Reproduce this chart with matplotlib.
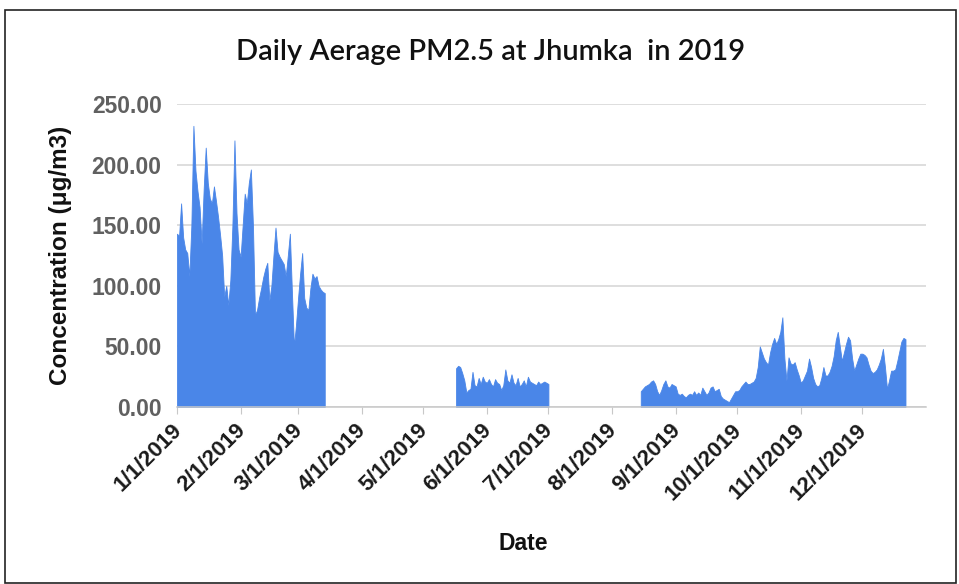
import numpy as np
import pandas as pd
import matplotlib
matplotlib.use("Agg")
import matplotlib.pyplot as plt
import matplotlib.transforms as mtransforms
from matplotlib.patches import Rectangle

# ---- data (daily average PM2.5, µg/m3), three measured periods ----
seg1_start = "2019-01-01"
seg1_values = [143, 141, 168, 140, 130, 127, 108, 150, 232, 195, 178, 165, 135, 180, 214,
               185, 172, 168, 182, 170, 157, 142, 125, 91, 100, 84, 105, 150, 220, 160,
               130, 124, 150, 176, 168, 185, 196, 150, 76, 80, 90, 98, 107, 114, 119,
               88, 100, 125, 148, 128, 124, 121, 118, 108, 125, 143, 95, 50, 68, 90,
               110, 127, 90, 82, 80, 98, 110, 106, 108, 100, 97, 95, 94]

seg2_start = "2019-05-17"
seg2_values = [32, 34, 33, 28, 22, 12, 14, 15, 29, 18, 17, 24, 19, 25, 21, 20, 23, 19, 17,
               23, 20, 19, 14, 18, 31, 22, 20, 27, 20, 18, 24, 17, 19, 22, 17, 25, 21, 20,
               19, 18, 21, 19, 20, 21, 20, 19]

seg3_start = "2019-08-15"
seg3_values = [13, 15, 17, 18, 19, 21, 22, 19, 13, 10, 14, 19, 22, 17, 16, 19, 18, 17, 11,
               10, 11, 9, 8, 10, 11, 10, 13, 10, 12, 10, 16, 13, 10, 12, 16, 17, 13, 14,
               15, 9, 7, 6, 5, 4, 7, 10, 13, 13, 14, 17, 19, 21, 19, 19, 20, 21, 24, 33,
               50, 45, 40, 37, 35, 45, 52, 57, 52, 56, 62, 74, 40, 22, 41, 36, 35, 37, 31,
               26, 20, 22, 26, 30, 40, 33, 24, 19, 17, 18, 24, 33, 26, 26, 29, 34, 42, 55,
               62, 50, 38, 45, 52, 58, 55, 40, 30, 35, 40, 44, 44, 43, 41, 35, 30, 28, 29,
               31, 35, 40, 48, 33, 15, 22, 30, 30, 31, 38, 46, 54, 57, 56]

tick_dates = ["2019-01-01", "2019-02-01", "2019-03-01", "2019-04-01", "2019-05-01",
              "2019-06-01", "2019-07-01", "2019-08-01", "2019-09-01", "2019-10-01",
              "2019-11-01", "2019-12-01"]
tick_labels = ["1/1/2019", "2/1/2019", "3/1/2019", "4/1/2019", "5/1/2019", "6/1/2019",
               "7/1/2019", "8/1/2019", "9/1/2019", "10/1/2019", "11/1/2019", "12/1/2019"]
y_ticks = [0, 50, 100, 150, 200, 250]

title = "Daily Aerage PM2.5 at Jhumka  in 2019"
xlabel = "Date"
ylabel = "Concentration (\u03bcg/m3)"

# ---- figure ----
W, H = 959, 584
fig = plt.figure(figsize=(W / 100, H / 100), dpi=100)
fig.patch.set_facecolor("white")

# outer frame
fig.add_artist(Rectangle((5 / W, 1 / H), 951 / W, (H - 11) / H, transform=fig.transFigure,
                         fill=False, edgecolor="#222222", linewidth=1.2))

left, right, top, bottom = 177, 926, 104, 407
ax = fig.add_axes([left / W, 1 - bottom / H, (right - left) / W, (bottom - top) / H])

color = "#4a86e8"
for start, vals in [(seg1_start, seg1_values), (seg2_start, seg2_values), (seg3_start, seg3_values)]:
    dates = pd.date_range(start, periods=len(vals), freq="D")
    ax.fill_between(dates, 0, vals, color=color, linewidth=0.6, edgecolor=color)

ax.set_xlim(pd.Timestamp("2019-01-01"), pd.Timestamp("2020-01-01"))
ax.set_ylim(0, 250)

ax.set_yticks(y_ticks)
ax.set_yticklabels([f"{v:.2f}" for v in y_ticks], fontsize=16.5, fontweight="bold",
                   color="#606060", family="Liberation Sans")
ax.tick_params(axis="y", length=0, pad=11)
ax.grid(axis="y", color="#d4d4d4", linewidth=1.1)
ax.set_axisbelow(True)

ax.set_xticks(pd.to_datetime(tick_dates))
ax.set_xticklabels(tick_labels, rotation=45, ha="right", rotation_mode="anchor",
                   fontsize=16, fontweight="bold", color="#1a1a1a", family="Liberation Sans")
ax.tick_params(axis="x", length=5, color="#c8c8c8", pad=4)
offset = mtransforms.ScaledTranslation(-6 / 100, 0, fig.dpi_scale_trans)
for lbl in ax.get_xticklabels():
    lbl.set_transform(lbl.get_transform() + offset)

for s in ["top", "right", "left"]:
    ax.spines[s].set_visible(False)
ax.spines["bottom"].set_color("#c8c8c8")
ax.spines["bottom"].set_linewidth(1.1)

fig.text(60 / W, 1 - 255 / H, ylabel, ha="center", va="center", rotation=90, fontsize=17.5,
         fontweight="bold", color="#111111", family="Liberation Sans")
fig.text(523 / W, 1 - 543 / H, xlabel, ha="center", va="center", fontsize=16.5,
         fontweight="bold", color="#111111", family="Liberation Sans")
fig.text(491 / W, 1 - 52 / H, title, ha="center", va="center", fontsize=21,
         fontweight="semibold", color="#111111", family="Lato")

fig.savefig("out.png", dpi=100, facecolor="white")
